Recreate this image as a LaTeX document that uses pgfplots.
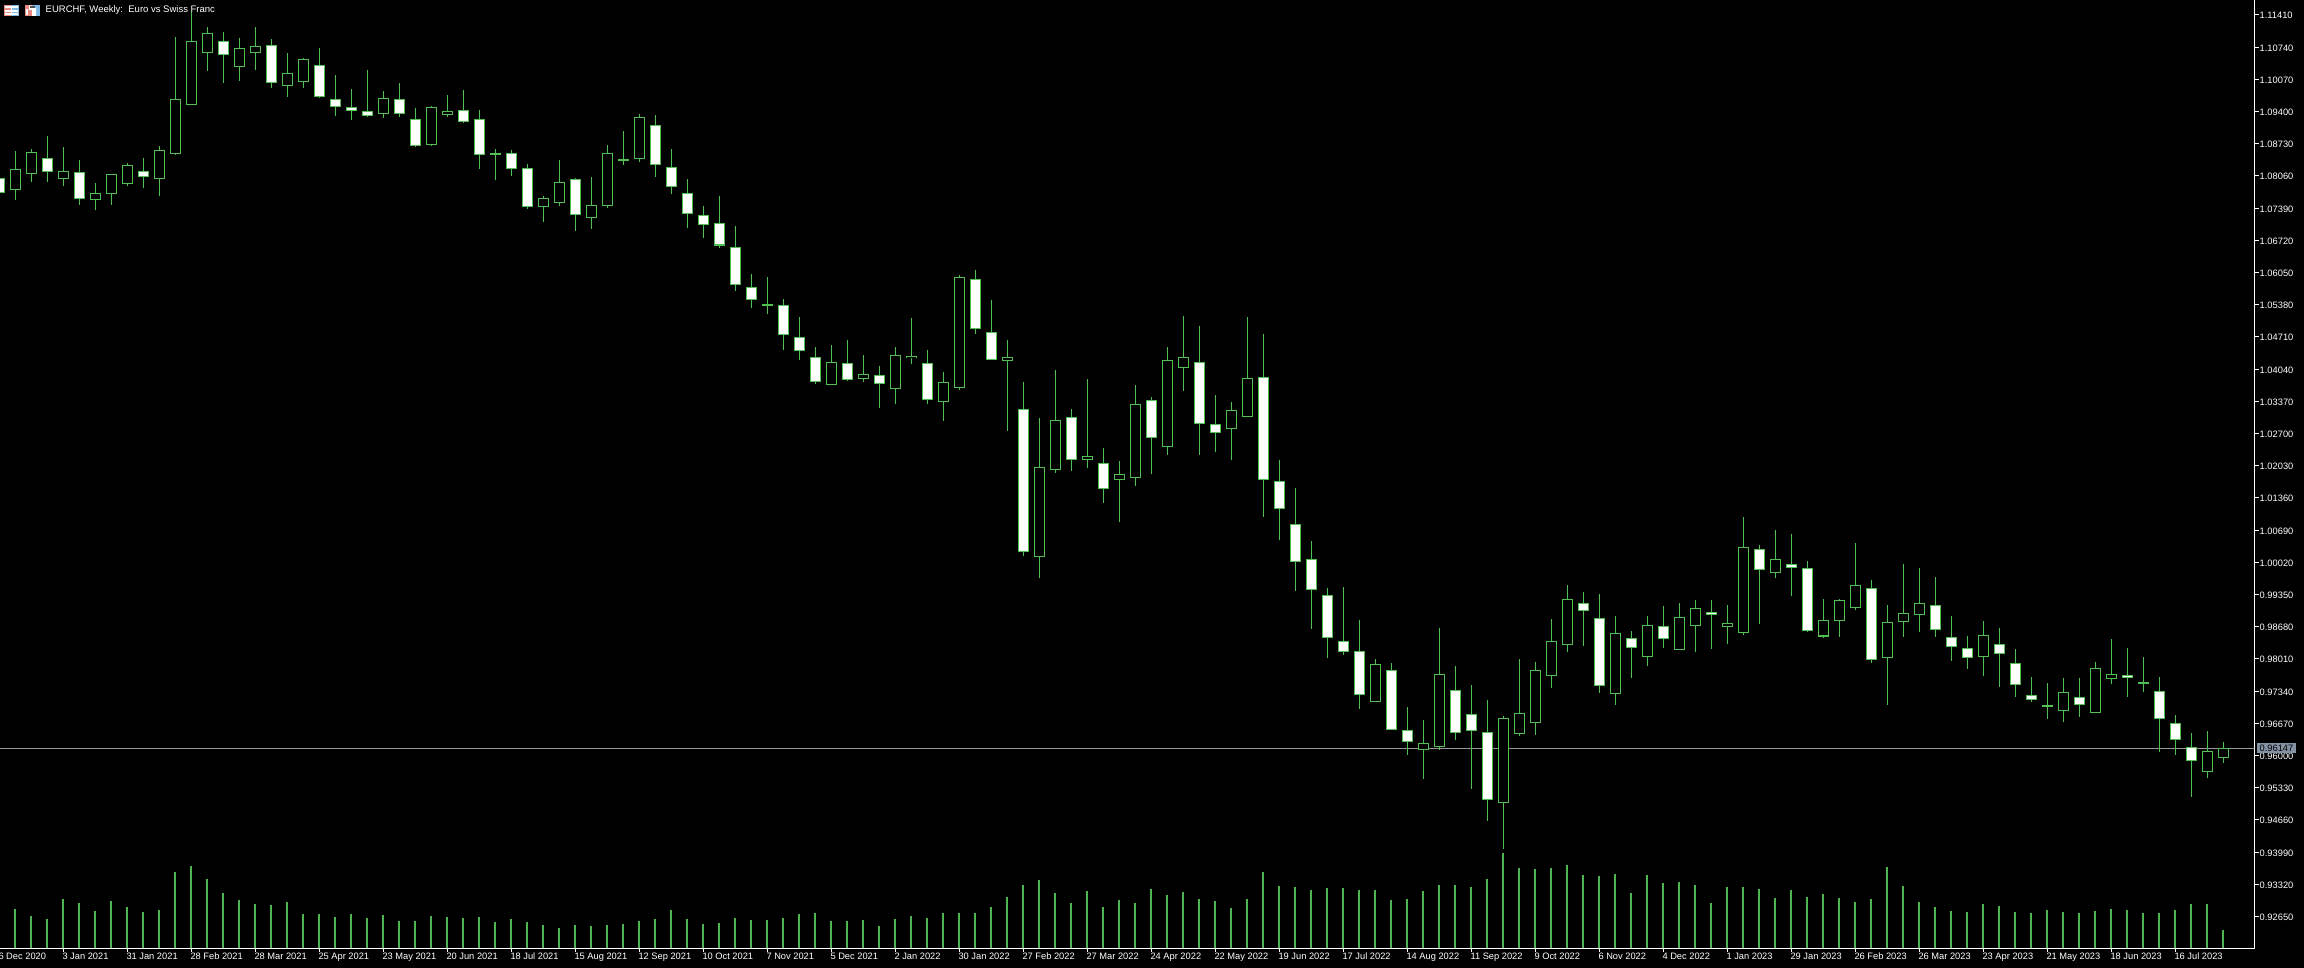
\documentclass[border=0pt]{standalone}
\usepackage{pgfplots}
\pgfplotsset{compat=1.18}
\usepackage{pgfplotstable}
\usepackage{fontspec}
\setmainfont{Liberation Sans}
\definecolor{candle}{HTML}{50C050}
\definecolor{volbar}{HTML}{4CB450}
\definecolor{askline}{HTML}{989898}
\definecolor{tagbg}{HTML}{8492A6}
\definecolor{iconred}{HTML}{E88A80}
\definecolor{iconblue}{HTML}{7DB8E8}

% weeks where the candle closed lower: filled white
\pgfplotstableread{
i hi top bot lo
0 1.08141 1.08009 1.07711 1.07621
3 1.08890 1.08425 1.08148 1.07933
5 1.08391 1.08134 1.07586 1.07454
9 1.08432 1.08155 1.08044 1.07808
14 1.11054 1.10860 1.10582 1.09993
17 1.10908 1.10777 1.10000 1.09889
20 1.10721 1.10361 1.09709 1.09688
21 1.10159 1.09653 1.09500 1.09306
22 1.09868 1.09494 1.09417 1.09223
23 1.10263 1.09403 1.09313 1.09292
25 1.09993 1.09653 1.09355 1.09285
26 1.09473 1.09237 1.08689 1.08668
29 1.09847 1.09424 1.09188 1.09168
30 1.09424 1.09237 1.08502 1.08203
32 1.08592 1.08529 1.08210 1.08058
33 1.08307 1.08217 1.07419 1.07371
36 1.08016 1.07988 1.07253 1.06913
41 1.09327 1.09112 1.08293 1.08037
42 1.08619 1.08238 1.07836 1.07683
43 1.07995 1.07697 1.07274 1.06976
44 1.07433 1.07239 1.07045 1.06767
45 1.07641 1.07073 1.06622 1.06559
46 1.07017 1.06573 1.05796 1.05665
47 1.06018 1.05741 1.05484 1.05311
49 1.05498 1.05366 1.04756 1.04437
50 1.05124 1.04700 1.04423 1.04229
51 1.04499 1.04284 1.03778 1.03729
53 1.04645 1.04159 1.03820 1.03792
55 1.04104 1.03910 1.03736 1.03230
58 1.04437 1.04159 1.03403 1.03313
61 1.06102 1.05908 1.04881 1.04770
62 1.05478 1.04805 1.04236 1.04236
64 1.03771 1.03203 1.00241 1.00151
67 1.03210 1.03036 1.02155 1.01919
69 1.02398 1.02079 1.01552 1.01254
72 1.03459 1.03390 1.02613 1.01857
75 1.04937 1.04181 1.02904 1.02252
76 1.03501 1.02891 1.02717 1.02315
79 1.04770 1.03869 1.01739 1.00962
80 1.02148 1.01704 1.01136 1.00484
81 1.01566 1.00810 1.00033 0.99423
82 1.00463 1.00083 0.99444 0.98632
83 0.99479 0.99334 0.98451 0.98029
84 0.99506 0.98376 0.98160 0.98091
85 0.98820 0.98168 0.97266 0.96968
87 0.97925 0.97773 0.96545 0.96545
88 0.97010 0.96524 0.96288 0.96011
91 0.97863 0.97356 0.96476 0.96323
92 0.97467 0.96857 0.96517 0.95303
93 0.97155 0.96482 0.95081 0.94638
99 0.99403 0.99167 0.99014 0.98279
100 0.99361 0.98855 0.97453 0.97301
102 0.98591 0.98438 0.98244 0.97613
104 0.99111 0.98688 0.98431 0.98237
107 0.99236 0.98979 0.98931 0.98216
110 1.00380 1.00290 0.99867 0.98737
112 1.00609 0.99978 0.99909 0.99319
113 1.00047 0.99894 0.98597 0.98576
117 0.99651 0.99478 0.97994 0.97924
121 0.99714 0.99124 0.98618 0.98465
122 0.98902 0.98458 0.98264 0.97966
123 0.98486 0.98229 0.98035 0.97799
125 0.98653 0.98313 0.98119 0.97425
126 0.98216 0.97917 0.97473 0.97217
127 0.97633 0.97252 0.97161 0.97113
130 0.97612 0.97210 0.97064 0.96801
133 0.98236 0.97668 0.97626 0.97217
135 0.97633 0.97335 0.96766 0.96072
136 0.96842 0.96669 0.96336 0.96010
137 0.96468 0.96169 0.95899 0.95136
}\whitecandles

% weeks where the candle closed higher: hollow
\pgfplotstableread{
i hi top bot lo
1 1.08578 1.08197 1.07773 1.07558
2 1.08620 1.08550 1.08113 1.07933
4 1.08661 1.08155 1.08002 1.07850
6 1.07912 1.07697 1.07565 1.07350
7 1.08092 1.08092 1.07690 1.07454
8 1.08328 1.08280 1.07898 1.07850
10 1.08682 1.08592 1.08002 1.07642
11 1.10950 1.09653 1.08523 1.08495
12 1.11477 1.10860 1.09542 1.09542
13 1.11158 1.11026 1.10624 1.10243
15 1.10929 1.10714 1.10333 1.10035
16 1.11158 1.10756 1.10624 1.10263
18 1.10617 1.10194 1.09937 1.09702
19 1.10513 1.10485 1.10021 1.09889
24 1.09826 1.09674 1.09355 1.09265
27 1.09514 1.09487 1.08710 1.08689
28 1.09743 1.09403 1.09334 1.09285
31 1.08620 1.08529 1.08523 1.07975
34 1.07641 1.07593 1.07419 1.07100
35 1.08390 1.07926 1.07503 1.07433
37 1.08037 1.07447 1.07191 1.06955
38 1.08703 1.08529 1.07440 1.07392
39 1.08994 1.08404 1.08397 1.08286
40 1.09348 1.09278 1.08418 1.08349
48 1.05956 1.05387 1.05380 1.05186
52 1.04541 1.04180 1.03716 1.03709
54 1.04333 1.03931 1.03840 1.03771
56 1.04499 1.04326 1.03632 1.03313
57 1.05103 1.04312 1.04277 1.04146
59 1.03973 1.03765 1.03362 1.02960
60 1.05991 1.05949 1.03654 1.03605
63 1.04645 1.04285 1.04215 1.02752
65 1.03022 1.01996 1.00137 0.99693
66 1.04021 1.02974 1.01947 1.01878
68 1.03834 1.02225 1.02169 1.01982
70 1.02128 1.01850 1.01739 1.00858
71 1.03709 1.03307 1.01781 1.01607
73 1.04500 1.04222 1.02426 1.02252
74 1.05145 1.04285 1.04070 1.03584
77 1.03355 1.03182 1.02800 1.02148
78 1.05124 1.03848 1.03050 1.03050
86 0.98008 0.97897 0.97121 0.97121
89 0.96739 0.96254 0.96122 0.95511
90 0.98653 0.97689 0.96184 0.96115
94 0.96822 0.96774 0.95019 0.94055
95 0.98008 0.96878 0.96455 0.96406
96 0.97946 0.97773 0.96684 0.96427
97 0.98841 0.98376 0.97662 0.97405
98 0.99548 0.99250 0.98307 0.98154
101 0.98903 0.98542 0.97287 0.97051
103 0.98903 0.98709 0.98057 0.97863
105 0.99174 0.98875 0.98203 0.98196
106 0.99236 0.99063 0.98702 0.98154
108 0.99132 0.98751 0.98681 0.98320
109 1.00963 1.00332 0.98556 0.98508
111 1.00693 1.00082 0.99805 0.99694
114 0.99256 0.98812 0.98486 0.98445
115 0.99256 0.99228 0.98805 0.98465
116 1.00421 0.99540 0.99076 0.99027
118 0.99131 0.98770 0.98035 0.97050
119 0.99984 0.98958 0.98784 0.98465
120 0.99901 0.99166 0.98930 0.98569
124 0.98798 0.98500 0.98056 0.97654
128 0.97508 0.97043 0.97036 0.96759
129 0.97612 0.97314 0.96932 0.96697
131 0.97945 0.97813 0.96891 0.96891
132 0.98424 0.97688 0.97598 0.97487
134 0.98049 0.97522 0.97515 0.97321
138 0.96509 0.96086 0.95663 0.95531
139 0.96280 0.96149 0.95954 0.95843
}\hollowcandles

% tick volume, in pixels of bar height
\pgfplotstableread{
i v
0 33.3
1 39.3
2 32.3
3 29.3
4 49.3
5 45.3
6 37.3
7 47.3
8 41.3
9 36.3
10 38.3
11 76.3
12 82.3
13 69.3
14 55.3
15 48.3
16 44.3
17 43.3
18 46.3
19 34.3
20 34.3
21 31.3
22 34.3
23 30.3
24 33.3
25 27.3
26 27.3
27 32.3
28 31.3
29 30.3
30 31.3
31 26.3
32 29.3
33 26.3
34 23.3
35 20.3
36 23.3
37 22.3
38 23.3
39 24.3
40 27.3
41 29.3
42 38.3
43 29.3
44 24.3
45 25.3
46 30.3
47 28.3
48 28.3
49 30.3
50 34.3
51 35.3
52 27.3
53 27.3
54 28.3
55 22.3
56 29.3
57 32.3
58 30.3
59 35.3
60 35.3
61 35.3
62 41.3
63 51.3
64 63.3
65 68.3
66 55.3
67 45.3
68 57.3
69 41.3
70 48.3
71 45.3
72 59.3
73 53.3
74 56.3
75 49.3
76 47.3
77 40.3
78 49.3
79 76.3
80 62.3
81 61.3
82 58.3
83 60.3
84 60.3
85 58.3
86 58.3
87 48.3
88 49.3
89 57.3
90 63.3
91 63.3
92 61.3
93 69.3
94 95.3
95 80.3
96 79.3
97 80.3
98 83.3
99 73.3
100 72.3
101 74.3
102 55.3
103 73.3
104 65.3
105 66.3
106 63.3
107 45.3
108 61.3
109 61.3
110 59.3
111 50.3
112 58.3
113 51.3
114 54.3
115 50.3
116 46.3
117 49.3
118 81.3
119 62.3
120 46.3
121 41.3
122 37.3
123 36.3
124 44.3
125 42.3
126 36.3
127 35.3
128 38.3
129 36.3
130 35.3
131 37.3
132 39.3
133 38.3
134 35.3
135 35.3
136 38.3
137 44.3
138 44.3
139 18.3
}\volumes

\pgfplotsset{
  barerr/.style 2 args={forget plot,draw=none,mark=none,
    error bars/.cd,y dir=both,y explicit,error mark=none,
    error bar style={#1,line width=#2,line cap=butt}},
  chartframe/.style={
    scale only axis,width=2255.2pt,height=948.3pt,
    at={(-0.7pt,20.7pt)},anchor=south west,
    xmin=0,xmax=140.95,
    ymin=0.91988,ymax=1.1172,
  },
}

\begin{document}
\begin{tikzpicture}[x=1pt,y=1pt]
\fill[black] (-2,-5) rectangle (2306,975);

% volume bars, on their own pixel scale
\begin{axis}[chartframe,hide axis,ymin=0,ymax=948.3]
\addplot[ycomb,no marks,volbar,line width=1.7pt] table[x=i,y=v] {\volumes};
\end{axis}

\begin{axis}[chartframe,
  clip mode=individual,
  axis x line*=bottom,axis y line*=right,
  axis line style={white,line width=1pt,-},
  tick align=outside,major tick length=4pt,
  tick style={white,line width=1pt},
  xtick={0,4,...,136},
  xticklabels={6 Dec 2020,3 Jan 2021,31 Jan 2021,28 Feb 2021,28 Mar 2021,25 Apr 2021,23 May 2021,20 Jun 2021,18 Jul 2021,15 Aug 2021,12 Sep 2021,10 Oct 2021,7 Nov 2021,5 Dec 2021,2 Jan 2022,30 Jan 2022,27 Feb 2022,27 Mar 2022,24 Apr 2022,22 May 2022,19 Jun 2022,17 Jul 2022,14 Aug 2022,11 Sep 2022,9 Oct 2022,6 Nov 2022,4 Dec 2022,1 Jan 2023,29 Jan 2023,26 Feb 2023,26 Mar 2023,23 Apr 2023,21 May 2023,18 Jun 2023,16 Jul 2023},
  x tick label style={font=\fontsize{9.3}{10}\selectfont,text=white,anchor=north west,inner sep=0pt,text height=7pt,text depth=2pt,yshift=0pt,xshift=-1pt},
  ytick={1.1141,1.1074,1.1007,1.0940,1.0873,1.0806,1.0739,1.0672,1.0605,1.0538,1.0471,1.0404,1.0337,1.0270,1.0203,1.0136,1.0069,1.0002,0.9935,0.9868,0.9801,0.9734,0.9667,0.9600,0.9533,0.9466,0.9399,0.9332,0.9265},
  scaled y ticks=false,
  y tick label style={font=\fontsize{9.3}{10}\selectfont,text=white,anchor=west,inner sep=0pt,xshift=1pt,yshift=-0.8pt,
    /pgf/number format/fixed,/pgf/number format/fixed zerofill,
    /pgf/number format/precision=5,/pgf/number format/assume math mode=true},
]
\addplot[forget plot,askline,line width=1pt] coordinates {(0,0.96147) (140.95,0.96147)};

% wicks
\addplot[barerr={candle}{1.2pt}] table[x=i,y expr={(\thisrow{hi}+\thisrow{lo})/2},y error expr={(\thisrow{hi}-\thisrow{lo})/2}] {\whitecandles};
\addplot[barerr={candle}{1.2pt}] table[x=i,y expr={(\thisrow{hi}+\thisrow{lo})/2},y error expr={(\thisrow{hi}-\thisrow{lo})/2}] {\hollowcandles};
% body outlines
\addplot[barerr={candle}{10.8pt}] table[x=i,y expr={(\thisrow{top}+\thisrow{bot})/2},y error expr={(\thisrow{top}-\thisrow{bot})/2+0.0001}] {\whitecandles};
\addplot[barerr={candle}{10.8pt}] table[x=i,y expr={(\thisrow{top}+\thisrow{bot})/2},y error expr={(\thisrow{top}-\thisrow{bot})/2+0.0001}] {\hollowcandles};
% body interiors
\addplot[barerr={white}{8.6pt}] table[x=i,y expr={(\thisrow{top}+\thisrow{bot})/2},y error expr={max((\thisrow{top}-\thisrow{bot})/2-0.00012,0)}] {\whitecandles};
\addplot[barerr={black}{8.6pt}] table[x=i,y expr={(\thisrow{top}+\thisrow{bot})/2},y error expr={max((\thisrow{top}-\thisrow{bot})/2-0.00012,0)}] {\hollowcandles};
\coordinate (asktag) at (axis cs:140.95,0.96147);
\end{axis}

\node[fill=tagbg,text=black,inner sep=0pt,minimum width=39.5pt,minimum height=10pt,anchor=west,
  font=\fontsize{9.3}{10}\selectfont,xshift=2pt] at (asktag) {0.96147};

% window title and toolbar icons
\begin{scope}[shift={(0,969)},y=-1pt]
\node[anchor=west,text=white,inner sep=0pt,font=\fontsize{9.5}{10}\selectfont] at (45.5,10.5) {EURCHF, Weekly:\ \ Euro vs Swiss Franc};
\fill[white] (4,5) rectangle (19,16);
\draw[iconred,line width=1.3pt] (11,5.6) -- (4.6,5.6) -- (4.6,15.4) -- (11,15.4) (5,9) -- (11,9) (5,12.3) -- (11,12.3);
\draw[iconblue,line width=1.3pt] (11,5.6) -- (18.4,5.6) -- (18.4,15.4) -- (11,15.4) (11.5,9) -- (18,9) (11.5,12.3) -- (18,12.3);
\fill[iconred] (25,5) rectangle (32,16);
\fill[iconblue] (32,5) rectangle (40,16);
\fill[white] (29,5.5) rectangle (32,10) (32,8) rectangle (36,16);
\fill[white] (26,9) rectangle (28,15);
\fill[black!70] (30,6) rectangle (35,8);
\end{scope}
\pgfresetboundingbox
\useasboundingbox (0,2) rectangle (2304,969);
\end{tikzpicture}
\end{document}
